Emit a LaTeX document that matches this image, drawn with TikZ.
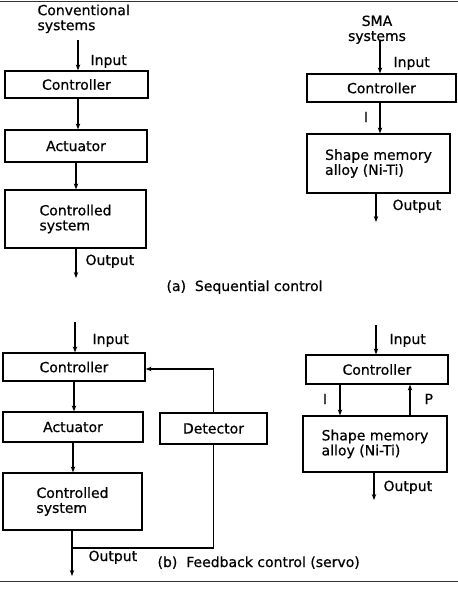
\documentclass[tikz,border=0pt]{standalone}
\usepackage{fontspec}
\setmainfont{DejaVu Sans}
\newfontfamily\diagfont[FakeBold=0.6]{DejaVu Sans}
\usetikzlibrary{arrows.meta, calc, positioning}

\begin{document}
\begin{tikzpicture}[x=1pt, y=-1pt, >={Stealth[length=6pt, width=4.5pt]}, line width=1.1pt]
    \def\fsize{\diagfont\fontsize{14}{15}\selectfont}

    \tikzstyle{block} = [draw, line width=1.2pt, inner sep=0pt, font=\fsize]
    \tikzstyle{lbl} = [inner sep=0pt, font=\fsize]
    \tikzstyle{rule} = [line width=0.9pt, black!80]

    \useasboundingbox (0,0) rectangle (458,595);

    % page rules
    \draw [rule] (0,1) -- (458,1);
    \draw [rule] (0,581) -- (458,581);

    % (a) conventional systems
    \node (headA) [lbl, anchor=north west, align=left] at (37,4) {Conventional\\systems};
    \node (ctrlA) [block, minimum width=143pt, minimum height=27pt] at (76.5,84.5) {Controller};
    \node (actA) [block, minimum width=142pt, minimum height=32pt] at (76,146) {Actuator};
    \node (sysA) [block, minimum width=141pt, minimum height=58pt, align=left] at (75.5,219) {Controlled\\system};
    \coordinate (inA) at (78,40);
    \coordinate (outA) at (76,278);
    \draw [->] (inA) -- (inA |- ctrlA.north);
    \draw [->] (ctrlA.south -| inA) -- (actA.north -| inA);
    \draw [->] (actA.south) -- (actA.south |- sysA.north);
    \draw [->] (sysA.south -| outA) -- (outA);
    \node [lbl, anchor=base west] at (90,65) {Input};
    \node [lbl, anchor=base west] at (85,265) {Output};

    % (a) SMA systems
    \node (headS) [lbl, align=center, anchor=north] at (377,15) {SMA\\systems};
    \node (ctrlS) [block, minimum width=149pt, minimum height=28pt] at (381.5,88) {Controller};
    \node (smaS) [block, minimum width=143pt, minimum height=59pt, align=left] at (378.5,163.5) {Shape memory\\alloy (Ni-Ti)};
    \coordinate (inS) at (380,40);
    \coordinate (outS) at (376,222);
    \draw [->] (inS) -- (inS |- ctrlS.north);
    \draw [->] (ctrlS.south -| inS) -- (smaS.north -| inS);
    \draw [->] (smaS.south -| outS) -- (outS);
    \node [lbl, anchor=base west] at (393,67) {Input};
    \node [lbl, anchor=base] at (366,122) {I};
    \node [lbl, anchor=base west] at (392,210) {Output};

    \node (capA) [lbl, anchor=base west] at (166,291) {(a)\ \ Sequential control};

    % (b) conventional systems
    \node (ctrlB) [block, minimum width=142pt, minimum height=28pt] at (74,367) {Controller};
    \node (actB) [block, minimum width=140pt, minimum height=30pt] at (73,427) {Actuator};
    \node (sysB) [block, minimum width=139pt, minimum height=57pt, align=left] at (72.5,501.5) {Controlled\\system};
    \node (det) [block, minimum width=107pt, minimum height=31pt] at (213.5,428.5) {Detector};
    \coordinate (inB) at (75,322);
    \coordinate (outB) at (72,576);
    \coordinate (jB) at (72,548);
    \draw [->] (inB) -- (inB |- ctrlB.north);
    \draw [->] (ctrlB.south) -- (ctrlB.south |- actB.north);
    \draw [->] (actB.south) -- (actB.south |- sysB.north);
    \draw [->] (sysB.south -| outB) -- (outB);
    \draw (jB) -| (det.south);
    \draw [->] (det.north) |- ($(ctrlB.east) + (0,2)$);
    \node [lbl, anchor=base west] at (92,344) {Input};
    \node [lbl, anchor=base west] at (88,561) {Output};

    % (b) SMA systems
    \node (ctrlT) [block, minimum width=142pt, minimum height=29pt] at (377,369.5) {Controller};
    \node (smaT) [block, minimum width=144pt, minimum height=56pt, align=left] at (375,444) {Shape memory\\alloy (Ni-Ti)};
    \coordinate (inT) at (376,325);
    \coordinate (outT) at (374,500);
    \draw [->] (inT) -- (inT |- ctrlT.north);
    \draw [->] ([xshift=-37pt]ctrlT.south) -- ([xshift=-37pt]ctrlT.south |- smaT.north);
    \draw [->] ([xshift=35pt]smaT.north) -- ([xshift=35pt]smaT.north |- ctrlT.south);
    \draw [->] (smaT.south -| outT) -- (outT);
    \node [lbl, anchor=base west] at (389,344) {Input};
    \node [lbl, anchor=base] at (325,404) {I};
    \node [lbl, anchor=base west] at (424,404) {P};
    \node [lbl, anchor=base west] at (383,491) {Output};

    \node (capB) [lbl, anchor=base west] at (157,567) {(b)\ \ Feedback control (servo)};
\end{tikzpicture}
\end{document}
